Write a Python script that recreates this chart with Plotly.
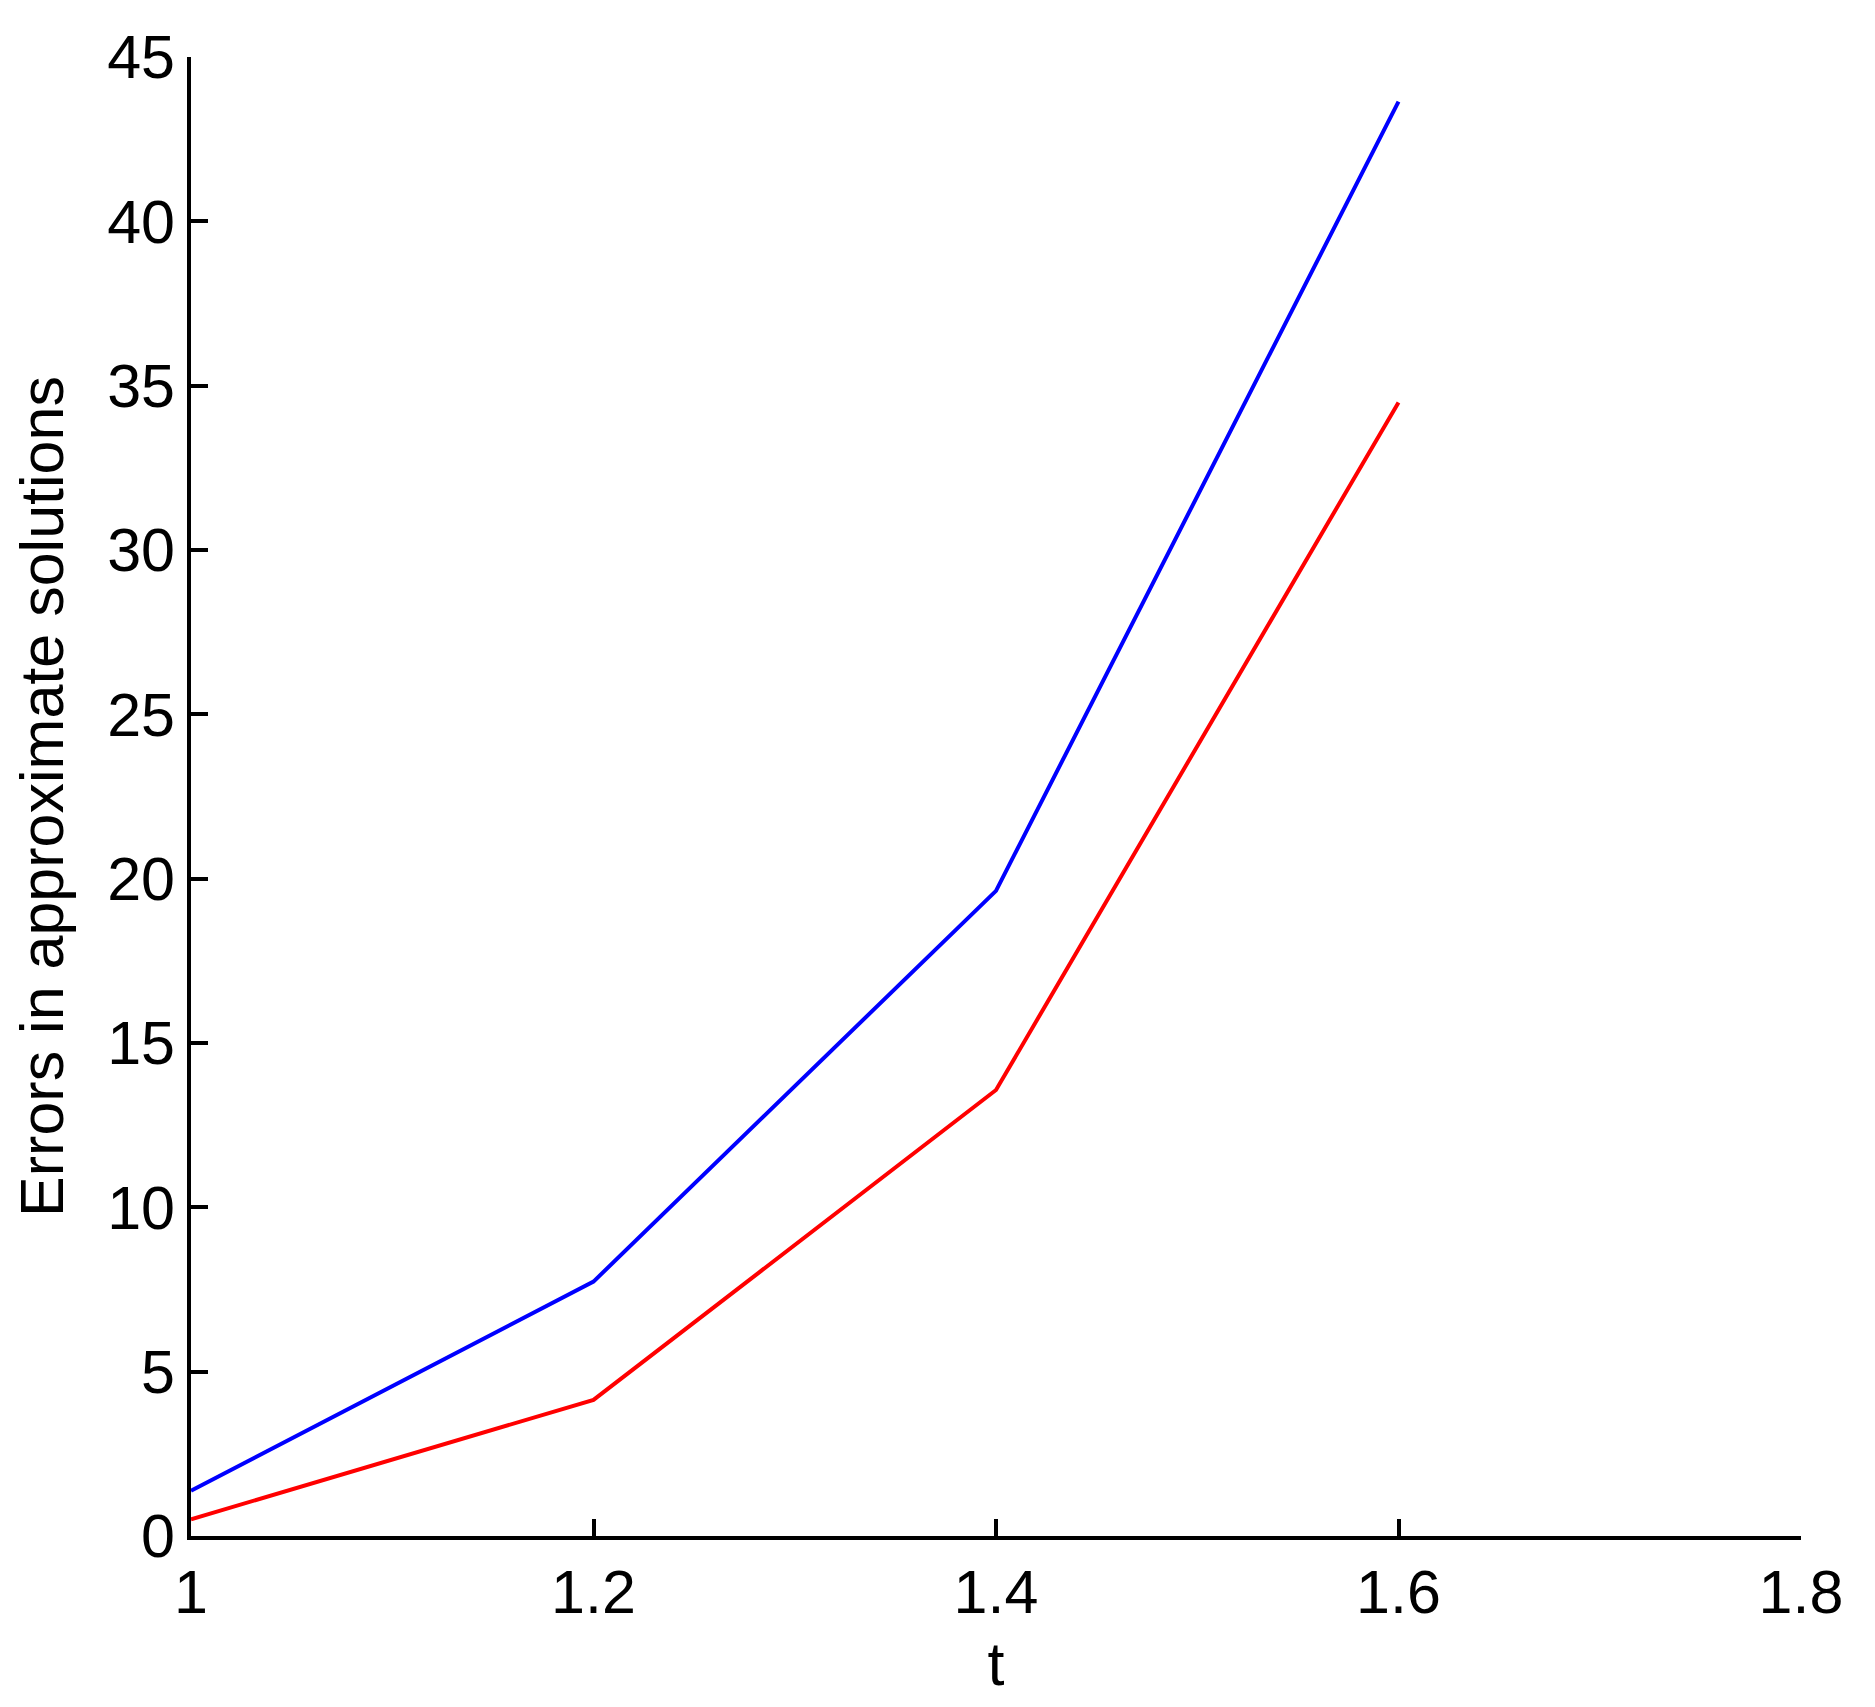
import plotly.graph_objects as go

t = [1.0, 1.2, 1.4, 1.6]
err_blue = [1.38, 7.74, 19.63, 43.64]
err_red = [0.51, 4.14, 13.57, 34.49]
x_ticks = [1, 1.2, 1.4, 1.6, 1.8]
x_ticklabels = ["1", "1.2", "1.4", "1.6", "1.8"]
y_ticks = [0, 5, 10, 15, 20, 25, 30, 35, 40, 45]

FONT = "Liberation Sans, Arial, Helvetica, sans-serif"
FS = 61

fig = go.Figure()
fig.add_trace(go.Scatter(x=t, y=err_blue, mode="lines",
                         line=dict(color="#0000ff", width=4), showlegend=False))
fig.add_trace(go.Scatter(x=t, y=err_red, mode="lines",
                         line=dict(color="#ff0000", width=4), showlegend=False))

fig.update_layout(
    width=1867, height=1699,
    margin=dict(l=183, r=74, t=49, b=171),
    paper_bgcolor="white", plot_bgcolor="white",
    font=dict(family=FONT, size=FS, color="black"),
    xaxis=dict(
        range=[1, 1.8], tickvals=x_ticks, ticktext=x_ticklabels,
        showgrid=False, zeroline=False, showline=True, linecolor="black", linewidth=3.5,
        ticks="inside", ticklen=17, tickwidth=3.5, tickcolor="black",
        tickfont=dict(family=FONT, size=FS, color="black"),
        title=dict(text="t", font=dict(family=FONT, size=FS, color="black"), standoff=18),
    ),
    yaxis=dict(
        range=[0, 45], tickvals=y_ticks,
        showgrid=False, zeroline=False, showline=True, linecolor="black", linewidth=3.5,
        ticks="inside", ticklen=17, tickwidth=3.5, tickcolor="black",
        tickfont=dict(family=FONT, size=FS, color="black"),
        title=dict(text="Errors in approximate solutions",
                   font=dict(family=FONT, size=FS, color="black"), standoff=30),
    ),
)

fig.write_html("out.html")
